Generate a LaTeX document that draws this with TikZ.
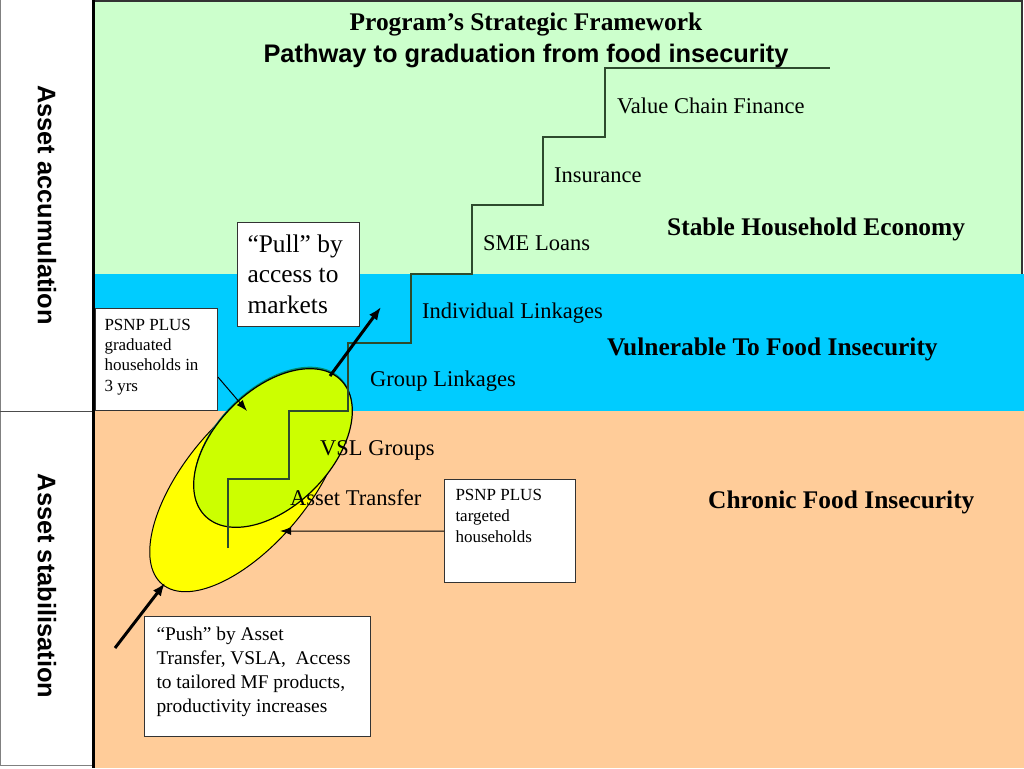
\documentclass[tikz,border=0pt]{standalone}
\usepackage{fontspec}
\setmainfont{Liberation Serif}
\setsansfont{Liberation Sans}
\usepackage{xcolor}
\usepackage{tikz}
\usetikzlibrary{arrows.meta}

\definecolor{zonegreen}{RGB}{204,255,204}
\definecolor{zonecyan}{RGB}{0,204,255}
\definecolor{zonepeach}{RGB}{255,204,153}
\definecolor{pushyellow}{RGB}{255,255,0}
\definecolor{pulllime}{RGB}{204,255,0}
\definecolor{stairgreen}{RGB}{45,75,45}
\definecolor{rimteal}{RGB}{0,140,110}

\begin{document}
\begin{tikzpicture}[x=1pt, y=-1pt,
  stairtext/.style={anchor=base west, inner sep=0pt, font=\fontsize{22.5}{27}\selectfont},
  zonetext/.style={anchor=base west, inner sep=0pt, font=\bfseries\fontsize{25.4}{30}\selectfont},
  sidetext/.style={rotate=-90, inner sep=0pt, font=\sffamily\bfseries\fontsize{25.4}{30}\selectfont},
  notebox/.style={draw=black!80, line width=1pt, fill=white, align=flush left, anchor=north west},
  bigarrow/.style={line width=3pt, -{Latex[length=13pt,width=10pt]}},
  thinarrow/.style={line width=1pt, -{Latex[length=11pt,width=8pt]}}]

\useasboundingbox (0,0) rectangle (1024,768);

% zones
\fill[white] (0,0) rectangle (1024,768);
\fill[zonegreen] (93,0) rectangle (1022,274);
\fill[zonecyan] (93,274) rectangle (1024,411);
\fill[zonepeach] (93,411) rectangle (1024,768);
\draw[black!80, line width=1.5pt] (93,1) -- (1022,1) -- (1022,274);

% left column
\draw[black!50] (0.5,0) -- (0.5,765) -- (93,765);
\draw[black!70] (0,411) -- (93,411);
\draw[line width=3pt] (93,0) -- (93,768);

\node[sidetext] (accum) at (47,205) {Asset accumulation};
\node[sidetext] (stabil) at (47,586) {Asset stabilisation};

% ellipses
\filldraw[fill=pushyellow, draw=black, line width=1pt, rotate around={50:(247,483)}] (247,483) ellipse [x radius=132, y radius=62];
\fill[rimteal, rotate around={45:(273,446)}] (273,446) ellipse [x radius=96, y radius=58];
\filldraw[fill=pulllime, draw=black, line width=1.2pt, rotate around={45:(273,448)}] (273,448) ellipse [x radius=96, y radius=58];

% staircase
\draw[stairgreen, line width=1.5pt] (228,548) |- (289,479) |- (348,411) |- (411,343) |- (472,274) |- (543,205) |- (605,137) |- (830,68);

\node[stairtext] (vcf) at (617,113) {Value Chain Finance};
\node[stairtext] (ins) at (554,182) {Insurance};
\node[stairtext] (sme) at (483,250) {SME Loans};
\node[stairtext] (indiv) at (422,318) {Individual Linkages};
\node[stairtext] (group) at (370,386) {Group Linkages};
\node[stairtext] (vsl) at (320,455) {VSL Groups};
\node[stairtext] (transfer) at (290,505) {Asset Transfer};

\node[zonetext] (stable) at (667,235) {Stable Household Economy};
\node[zonetext] (vulnerable) at (607,355) {Vulnerable To Food Insecurity};
\node[zonetext] (chronic) at (708,508) {Chronic Food Insecurity};

\node[anchor=base, inner sep=0pt, font=\bfseries\fontsize{25.4}{30}\selectfont] (title) at (526,31) {Program’s Strategic Framework};
\node[anchor=base, inner sep=0pt, font=\sffamily\bfseries\fontsize{25.4}{30}\selectfont] (subtitle) at (526,63) {Pathway to graduation from food insecurity};

% boxes
\node[notebox, text width=102pt, inner xsep=10pt, inner ysep=12pt, text depth=62pt, font=\fontsize{25.4}{30.5}\selectfont] (pullbox) at (237,222) {“Pull” by\\access to\\markets};
\node[notebox, text width=104pt, inner xsep=9pt, inner ysep=10.5pt, text depth=69.7pt, font=\fontsize{17}{20.3}\selectfont] (gradbox) at (95,308) {PSNP PLUS\\graduated\\households in\\3 yrs};
\node[notebox, text width=109pt, inner xsep=11pt, inner ysep=10pt, text depth=71.8pt, font=\fontsize{17}{21}\selectfont] (tgtbox) at (444,479) {PSNP PLUS\\targeted\\households};
\node[notebox, text width=202pt, inner xsep=12pt, inner ysep=10.75pt, text depth=85.2pt, font=\fontsize{19.4}{24}\selectfont] (pushbox) at (144,616) {“Push” by Asset\\Transfer, VSLA, \ Access\\to tailored MF products,\\productivity increases};

% arrows
\coordinate (pulltail) at (330,376);
\coordinate (pulltip) at (381,307);
\draw[bigarrow] (pulltail) -- (pulltip);
\coordinate (pushtail) at (115,648);
\coordinate (pushtip) at (165,583);
\draw[bigarrow] (pushtail) -- (pushtip);
\coordinate (gradtip) at (247,411);
\draw[thinarrow] (gradbox.-16) -- (gradtip);
\coordinate (tgttip) at (280,531);
\draw[thinarrow] (tgtbox.west) -- (tgttip);

\end{tikzpicture}
\end{document}
